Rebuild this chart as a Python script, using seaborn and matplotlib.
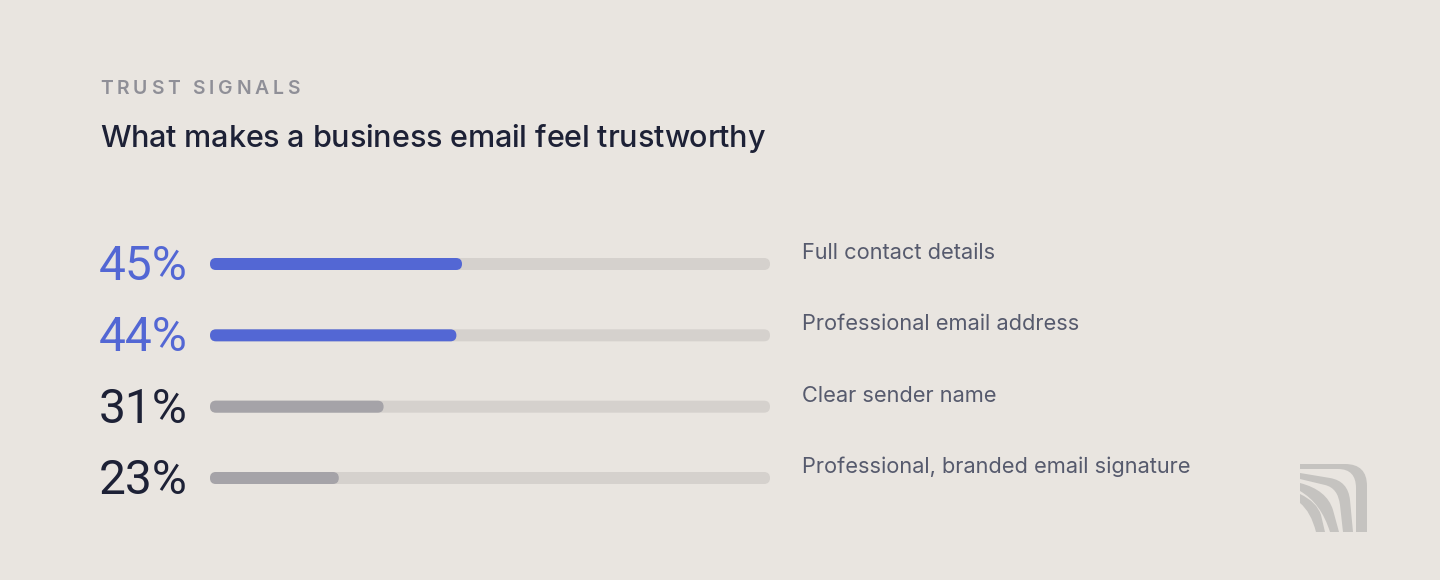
import numpy as np
import pandas as pd
import seaborn as sns
import matplotlib
matplotlib.use("Agg")
import matplotlib.pyplot as plt
import matplotlib.transforms as mtransforms
from matplotlib.patches import FancyBboxPatch, PathPatch
from matplotlib.path import Path
from matplotlib.font_manager import findfont, FontProperties
from matplotlib.ft2font import FT2Font

# ---- data ----
categories = ["Full contact details", "Professional email address",
              "Clear sender name", "Professional, branded email signature"]
values = [45, 44, 31, 23]
value_labels = ["45%", "44%", "31%", "23%"]
track_max = [100, 100, 100, 100]
highlight = [True, True, False, False]

eyebrow = "TRUST SIGNALS"
title = "What makes a business email feel trustworthy"

# ---- style ----
BG = "#e9e5e0"
TRACK = "#d5d1cd"
BLUE = "#5367d4"
GREY_FILL = "#a5a3a8"
DARK = "#1d2136"
LABEL = "#565a6d"
EYEBROW = "#8f8f97"
LOGO = "#c5c3c0"

sns.set_theme(style="white")
plt.rcParams["font.family"] = ["Inter", "DejaVu Sans"]

W, H = 1440, 580
DPI = 100
fig = plt.figure(figsize=(W / DPI, H / DPI), dpi=DPI, facecolor=BG)


def fx(px):
    return px / W


def fy(py):
    return 1 - py / H


def advances(text, weight, size_pt):
    fp = FontProperties(family="Inter", weight=weight)
    f = FT2Font(findfont(fp))
    f.set_size(size_pt, DPI)
    return [f.load_char(ord(c)).linearHoriAdvance / 65536.0 for c in text]


def tracked_text(x_px, y, text, size_pt, weight, color, transform,
                 tracking=None, target_width=None):
    adv = advances(text, weight, size_pt)
    if tracking is None:
        tracking = (target_width - sum(adv)) / max(len(text) - 1, 1)
    x = x_px
    for c, a in zip(text, adv):
        if c != " ":
            fig.text(fx(x), y, c, transform=transform, ha="left",
                     va="baseline", fontsize=size_pt, fontweight=weight,
                     color=color)
        x += a + tracking


# axes: x 210..770 px, rows centred at 264..478 px
row_gap = (478 - 264) / 3
top = 264 - row_gap / 2
bottom = 478 + row_gap / 2
ax = fig.add_axes([fx(210), fy(bottom), fx(770) - fx(210), (bottom - top) / H])
ax.set_facecolor("none")

df = pd.DataFrame({"label": categories, "value": values, "track": track_max})
bar_w = 12 / row_gap

sns.barplot(data=df, x="track", y="label", orient="h", color=TRACK,
            width=bar_w, ax=ax, saturation=1)
fill_colors = [BLUE if h else GREY_FILL for h in highlight]
sns.barplot(data=df, x="value", y="label", orient="h", hue="label",
            palette=fill_colors, width=bar_w, ax=ax, saturation=1, legend=False)

ax.set_xlim(0, 100)
ax.set_ylim(3.5, -0.5)
for s in ax.spines.values():
    s.set_visible(False)
ax.set_xticks([])
ax.set_yticks([])
ax.set_xlabel("")
ax.set_ylabel("")

# replace rectangular bars with rounded bars
px_per_x = 560 / 100.0
px_per_y = row_gap
aspect = (1 / px_per_y) / (1 / px_per_x)
radius_x = 6 / px_per_x
old = list(ax.patches)
for p in old:
    x0, y0 = p.get_x(), p.get_y()
    w, h = p.get_width(), p.get_height()
    fc = p.get_facecolor()
    z = p.get_zorder()
    p.remove()
    fb = FancyBboxPatch((x0, y0), w, h,
                        boxstyle=f"round,pad=0,rounding_size={radius_x}",
                        mutation_aspect=aspect, facecolor=fc, edgecolor="none",
                        zorder=z, clip_on=False)
    ax.add_patch(fb)

# percentage labels and category labels
blend = mtransforms.blended_transform_factory(fig.transFigure, ax.transData)
pct_tr = mtransforms.offset_copy(blend, fig=fig, y=-16, units="dots")
lab_tr = mtransforms.offset_copy(blend, fig=fig, y=5, units="dots")
for i, (vl, cat, hl) in enumerate(zip(value_labels, categories, highlight)):
    fig.text(fx(99), i, vl, transform=pct_tr, ha="left", va="baseline",
             fontsize=34.5, family=["Roboto", "DejaVu Sans"],
             color=BLUE if hl else DARK)
    fig.text(fx(802), i, cat, transform=lab_tr, ha="left", va="baseline",
             fontsize=15.7, color=LABEL)

# header
tracked_text(100, fy(94), eyebrow, 14, "semibold", EYEBROW, fig.transFigure,
             target_width=200)
tracked_text(100, fy(147), title, 22, "medium", DARK, fig.transFigure,
             target_width=665)

# decorative logo mark (bottom right)
def logo_patch(pts_codes):
    verts = [(fx(x), fy(y)) for (x, y), _ in pts_codes]
    codes = [c for _, c in pts_codes]
    return PathPatch(Path(verts, codes), transform=fig.transFigure,
                     facecolor=LOGO, edgecolor="none")


M, L, C3, CL = Path.MOVETO, Path.LINETO, Path.CURVE3, Path.CLOSEPOLY
shapes = [
    [((1300, 464), M), ((1345, 464), L), ((1367, 464), C3), ((1367, 486), C3),
     ((1367, 532), L), ((1356, 532), L), ((1356, 488), L), ((1356, 469), C3),
     ((1338, 469), C3), ((1300, 469), L), ((1300, 464), CL)],
    [((1300, 473), M), ((1330, 478), L), ((1348, 481), C3), ((1350, 500), C3),
     ((1353, 532), L), ((1343, 532), L), ((1340, 505), L), ((1338, 488), C3),
     ((1325, 485), C3), ((1300, 479), L), ((1300, 473), CL)],
    [((1300, 483), M), ((1327, 490), C3), ((1333, 510), C3), ((1339, 532), L),
     ((1330, 532), L), ((1321, 503), C3), ((1300, 491), C3), ((1300, 483), CL)],
    [((1300, 494), M), ((1317, 502), C3), ((1321, 515), C3), ((1325, 532), L),
     ((1316, 532), L), ((1311, 512), C3), ((1300, 503), C3), ((1300, 494), CL)],
]
for s in shapes:
    fig.patches.append(logo_patch(s))

fig.savefig("out.png", dpi=DPI, facecolor=BG)
